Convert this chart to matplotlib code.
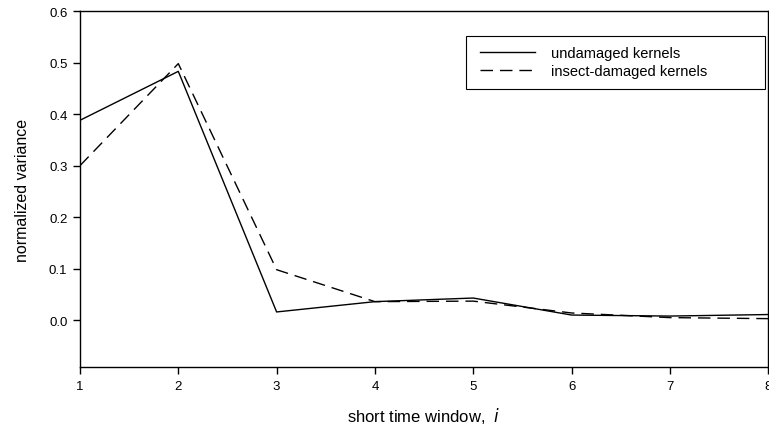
import matplotlib.pyplot as plt
from matplotlib.patches import Rectangle

plt.rcParams["font.family"] = ["Liberation Sans", "DejaVu Sans"]

windows = [1, 2, 3, 4, 5, 6, 7, 8]
undamaged = [0.388, 0.483, 0.016, 0.036, 0.043, 0.010, 0.008, 0.011]
damaged = [0.300, 0.498, 0.098, 0.036, 0.037, 0.014, 0.005, 0.003]
yticks = [0.0, 0.1, 0.2, 0.3, 0.4, 0.5, 0.6]

W, H = 769, 431
fig = plt.figure(figsize=(W / 100, H / 100), dpi=100)
ax = fig.add_axes([0.104, 0.146, 0.895, 0.826])

ax.plot(windows, undamaged, color="black", lw=1.0, label="undamaged kernels")
ax.plot(windows, damaged, color="black", lw=1.0, dashes=(9, 5),
        label="insect-damaged kernels")

ax.set_xlim(1, 8)
ax.set_ylim(-0.091, 0.6)
ax.set_xticks(windows)
ax.set_yticks(yticks)
ax.set_yticklabels([f"{v:.1f}" for v in yticks])
ax.tick_params(direction="out", length=5, width=1, labelsize=9.5,
               top=False, right=False, pad=4)
for s in ax.spines.values():
    s.set_linewidth(1.0)

ax.set_ylabel("normalized variance", fontsize=11.5, labelpad=14)
ax.set_xlabel("short time window,  $\\it{i}$", fontsize=12, labelpad=10)

# SigmaPlot-style legend: fixed box with generous right padding
fig.add_artist(Rectangle((466 / W, 1 - 90 / H), 299 / W, 53 / H,
                         transform=fig.transFigure, fill=False,
                         edgecolor="black", lw=0.8))
ax.legend(loc="upper left", bbox_to_anchor=(480 / W, 1 - 47 / H),
          bbox_transform=fig.transFigure, fontsize=10.5, frameon=False,
          handlelength=3.8, handletextpad=1.1, borderpad=0,
          labelspacing=0.25, borderaxespad=0)

fig.savefig("out.png", dpi=100)
